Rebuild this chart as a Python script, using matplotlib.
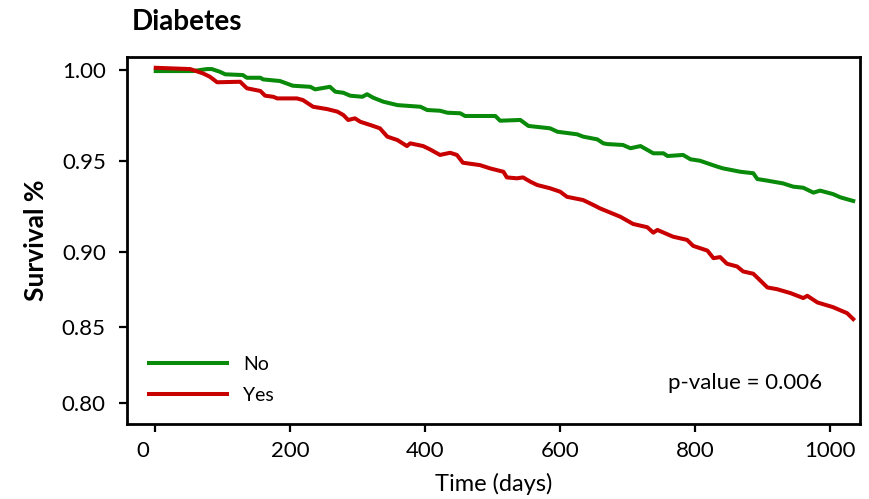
import numpy as np
import matplotlib
matplotlib.use("Agg")
import matplotlib.pyplot as plt
from matplotlib.transforms import ScaledTranslation

plt.rcParams['font.family'] = ['Lato', 'DejaVu Sans']

# Kaplan-Meier curves (days, survival)
no_days = [1, 56, 77, 84, 96, 104, 130, 136, 156, 160, 185, 204, 230, 237, 259, 267,
           279, 289, 307, 314, 323, 338, 359, 393, 403, 422, 433, 452, 459, 504, 511,
           541, 553, 585, 596, 625, 634, 655, 664, 670, 693, 704, 719, 738, 753, 759,
           782, 793, 807, 833, 841, 867, 886, 892, 907, 930, 945, 960, 975, 985, 1004,
           1015, 1034]
no_surv = [0.9996, 0.9996, 1.0007, 1.0007, 0.9992, 0.9978, 0.9974, 0.9959, 0.9959,
           0.9950, 0.9941, 0.9915, 0.9909, 0.9895, 0.9909, 0.9882, 0.9876, 0.9860,
           0.9854, 0.9868, 0.9849, 0.9827, 0.9808, 0.9799, 0.9781, 0.9777, 0.9766,
           0.9763, 0.9748, 0.9748, 0.9722, 0.9726, 0.9693, 0.9680, 0.9661, 0.9647,
           0.9634, 0.9619, 0.9597, 0.9593, 0.9588, 0.9570, 0.9582, 0.9542, 0.9542,
           0.9527, 0.9533, 0.9509, 0.9501, 0.9468, 0.9459, 0.9440, 0.9432, 0.9400,
           0.9391, 0.9376, 0.9358, 0.9352, 0.9325, 0.9336, 0.9317, 0.9299, 0.9279]

yes_days = [1, 52, 71, 81, 92, 126, 136, 156, 163, 175, 181, 210, 219, 234, 255, 270,
            279, 286, 296, 304, 319, 333, 344, 359, 373, 378, 397, 407, 422, 437, 447,
            456, 481, 496, 516, 521, 536, 545, 556, 566, 585, 600, 610, 634, 649, 659,
            689, 708, 729, 738, 744, 767, 788, 797, 818, 827, 837, 847, 862, 871, 886,
            907, 921, 941, 960, 966, 981, 1004, 1025, 1034]
yes_surv = [1.0014, 1.0007, 0.9983, 0.9965, 0.9934, 0.9937, 0.9901, 0.9886, 0.9860,
            0.9854, 0.9845, 0.9845, 0.9836, 0.9799, 0.9786, 0.9772, 0.9753, 0.9726,
            0.9735, 0.9716, 0.9698, 0.9680, 0.9634, 0.9615, 0.9582, 0.9597, 0.9582,
            0.9564, 0.9533, 0.9545, 0.9533, 0.9490, 0.9477, 0.9459, 0.9440, 0.9409,
            0.9404, 0.9409, 0.9385, 0.9367, 0.9349, 0.9330, 0.9302, 0.9284, 0.9257,
            0.9238, 0.9192, 0.9152, 0.9134, 0.9104, 0.9119, 0.9082, 0.9064, 0.9031,
            0.9005, 0.8956, 0.8963, 0.8919, 0.8901, 0.8868, 0.8853, 0.8762, 0.8751,
            0.8725, 0.8692, 0.8707, 0.8663, 0.8632, 0.8592, 0.8553]

group_labels = ['No', 'Yes']
group_colors = ['#0a8a0a', '#c80000']
x_ticks = [0, 200, 400, 600, 800, 1000]
y_ticks = [0.80, 0.85, 0.90, 0.95, 1.00]
y_tick_labels = ['0.80', '0.85', '0.90', '0.95', '1.00']
p_text = 'p-value = 0.006'

# the original y axis is squeezed below 0.90
k = 1512 / 1812


def fwd(v):
    v = np.asarray(v, dtype=float)
    return np.where(v >= 0.9, v, 0.9 + (v - 0.9) * k)


def inv(u):
    u = np.asarray(u, dtype=float)
    return np.where(u >= 0.9, u, 0.9 + (u - 0.9) / k)


fig = plt.figure(figsize=(8.69, 4.99), dpi=100)
ax = fig.add_axes([0.1458, 0.1503, 0.8438, 0.7349])
ax.set_yscale('function', functions=(fwd, inv))

ax.plot(no_days, no_surv, color=group_colors[0], lw=2.9, label=group_labels[0],
        solid_joinstyle='round')
ax.plot(yes_days, yes_surv, color=group_colors[1], lw=2.9, label=group_labels[1],
        solid_joinstyle='round')

ax.set_xlim(-42, 1044)
ax.set_ylim(0.7859, 1.0072)
ax.set_xticks(x_ticks)
ax.set_yticks(y_ticks)
ax.set_yticklabels(y_tick_labels)
ax.yaxis.set_minor_locator(matplotlib.ticker.NullLocator())

for s in ax.spines.values():
    s.set_linewidth(2.0)
ax.tick_params(axis='both', length=6, width=1.6, labelsize=16, direction='out')
ax.tick_params(axis='x', pad=6)
ax.tick_params(axis='y', pad=9)

fig.canvas.draw()
lbl0 = ax.get_xticklabels()[0]
lbl0.set_transform(lbl0.get_transform() + ScaledTranslation(-0.12, 0, fig.dpi_scale_trans))

ax.set_xlabel('Time (days)', fontsize=17, labelpad=9)
ax.set_ylabel('Survival %', fontsize=19, fontweight='bold', labelpad=10)
fig.text(0.152, 0.93, 'Diabetes', fontsize=20, fontweight='bold', ha='left', va='bottom')

ax.legend(loc='upper left', bbox_to_anchor=(0.031, 0.186), frameon=False, fontsize=14,
          handlelength=4.0, handletextpad=0.8, labelspacing=0.72, borderpad=0,
          borderaxespad=0)
ax.text(0.843, 0.112, p_text, transform=ax.transAxes, ha='center', va='center', fontsize=16)

fig.savefig('out.png', dpi=100)
